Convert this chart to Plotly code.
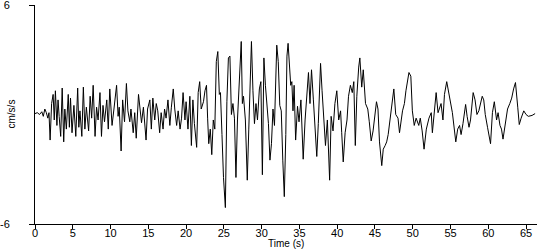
import plotly.graph_objects as go

time_s = [0, 0.3, 0.6, 0.9, 1.1, 1.3, 1.5, 1.7, 1.85, 2.0, 2.2, 2.4, 2.55, 2.7, 2.9, 3.05, 3.2, 3.4, 3.6, 3.8,
          3.95, 4.15, 4.4, 4.55, 4.7, 4.9, 5.15, 5.4, 5.65, 5.8, 5.95, 6.2, 6.4, 6.6, 6.8, 7.1, 7.3, 7.5, 7.7, 7.95,
          8.15, 8.35, 8.6, 8.8, 9.0, 9.2, 9.5, 9.7, 9.9, 10.2, 10.45, 10.8, 11.0, 11.15, 11.4, 11.6, 11.85, 12.1, 12.3, 12.55,
          12.7, 13.0, 13.2, 13.4, 13.7, 13.9, 14.1, 14.35, 14.7, 14.9, 15.2, 15.4, 15.6, 15.85, 16.05, 16.25, 16.5, 16.7, 16.95, 17.15,
          17.35, 17.6, 17.85, 18.05, 18.3, 18.5, 18.75, 18.95, 19.2, 19.4, 19.6, 19.85, 20.0, 20.25, 20.5, 20.7, 20.9, 21.1, 21.4, 21.6,
          21.8, 22.0, 22.3, 22.5, 22.7, 22.85, 23.0, 23.2, 23.4, 23.6, 23.8, 24.0, 24.2, 24.4, 24.55, 24.75, 24.95, 25.2, 25.4, 25.6,
          25.8, 26.0, 26.2, 26.4, 26.6, 26.8, 26.95, 27.1, 27.3, 27.45, 27.6, 27.85, 28.1, 28.3, 28.45, 28.65, 28.85, 29.05, 29.25, 29.45,
          29.7, 29.9, 30.1, 30.3, 30.5, 30.7, 30.9, 31.1, 31.3, 31.5, 31.7, 32.0, 32.2, 32.4, 32.6, 32.8, 33.0, 33.2, 33.35, 33.5,
          33.7, 33.85, 34.0, 34.15, 34.3, 34.5, 34.75, 34.95, 35.2, 35.5, 35.75, 35.95, 36.2, 36.4, 36.6, 36.85, 37.05, 37.3, 37.5, 37.8,
          38.0, 38.2, 38.45, 38.7, 38.8, 39.0, 39.2, 39.45, 39.7, 39.95, 40.2, 40.45, 40.6, 40.8, 41.05, 41.3, 41.5, 41.75, 42.0, 42.2,
          42.4, 42.6, 42.85, 43.0, 43.25, 43.45, 43.75, 44.05, 44.25, 44.5, 44.75, 45.0, 45.2, 45.4, 45.6, 45.9, 46.1, 46.35, 46.55, 46.75,
          47.0, 47.25, 47.5, 47.75, 48.05, 48.25, 48.65, 48.9, 49.1, 49.5, 49.75, 49.95, 50.2, 50.45, 50.8, 51.0, 51.25, 51.5, 51.8, 52.15,
          52.45, 52.6, 52.9, 53.1, 53.35, 53.75, 54.0, 54.2, 54.5, 54.85, 55.25, 55.7, 55.95, 56.2, 56.4, 56.65, 57.0, 57.2, 57.45, 57.65,
          58.0, 58.25, 58.5, 58.75, 59.2, 59.4, 59.6, 59.9, 60.05, 60.3, 60.55, 60.8, 61.1, 61.3, 61.55, 61.75, 61.95, 62.2, 62.55, 62.85,
          63.1, 63.35, 63.6, 63.9, 64.1, 64.35, 64.7, 65.0, 65.3, 65.8, 66.2]

accel = [0.05, 0.1, 0.0, 0.15, -0.1, 0.3, 0.1, -0.2, 0.1, -1.4, 0.6, 1.1, -0.3, 1.3, -0.6, 0.8, -0.1, -1.2, 1.45, -1.5,
         0.3, -0.8, 1.1, -0.7, 0.9, -1.0, 0.5, -1.2, 1.45, -0.7, 0.2, -1.2, 1.5, -0.8, 0.4, -0.9, 1.0, -0.2, 1.6, -1.2,
         0.4, -0.3, 1.2, -1.2, 0.5, -0.4, 0.8, -0.8, 1.4, -0.6, 0.3, 1.6, -0.1, 0.4, -2.0, 0.8, -0.4, 1.7, 0.2, -0.4,
         0.3, -1.0, 0.1, -1.3, 1.1, 0.3, -0.45, 0.4, -1.4, 0.3, 0.8, -0.8, 0.9, -0.3, 0.6, 0.2, -1.0, 0.1, -0.8, 0.3,
         -0.2, 0.8, -0.6, 0.4, 1.4, 0.3, -0.6, 0.2, -0.8, -0.2, 1.2, -0.3, 0.7, -0.8, 1.0, -1.7, 0.8, -0.5, -1.8, 1.2,
         1.8, 0.3, 0.7, 1.3, 1.6, -0.2, -1.6, -0.8, -2.2, -0.3, -0.8, 2.9, 3.45, 1.1, 1.2, -1.1, -3.45, -5.1, 0.7, 3.1,
         3.2, 0.0, 0.6, -0.2, -3.45, -0.3, 1.1, 2.0, 4.0, 0.6, 1.0, -0.3, -3.6, -0.8, 1.1, 4.0, 1.3, -0.5, 0.6, -0.3,
         1.4, 1.8, -3.3, 3.1, 1.6, 0.6, -0.5, -2.5, -1.6, 0.3, -0.6, 3.8, 2.9, 0.5, 0.2, -2.5, -4.5, -1.1, 3.2, 3.9,
         2.4, 1.6, 1.8, 0.2, 1.6, -1.4, 0.45, -0.4, 0.8, -2.45, -0.3, 0.9, 2.3, 0.6, 2.45, 0.8, -0.8, -2.3, -0.5, 2.8,
         1.3, -0.4, -1.7, -0.3, -1.8, -3.6, -0.1, -0.9, 0.6, 1.3, -0.3, 0.2, -1.0, -2.6, -1.0, -0.3, 1.0, 1.6, 1.2, 1.8,
         -1.7, 1.0, 2.6, 3.1, 1.5, 2.45, 0.6, 0.3, -0.4, -1.45, -0.9, 0.2, 0.7, 0.3, -1.5, -2.8, -1.9, -1.7, -1.5, -1.1,
         -0.2, 0.4, 1.4, 0.0, -0.2, -1.0, 0.2, 0.6, 1.3, 2.3, 2.1, 0.2, -0.6, -0.2, -0.6, -0.2, -0.9, -1.9, -0.8, -0.2,
         0.1, -1.0, 0.6, 1.2, 0.1, 0.6, -0.3, 1.1, 1.8, 1.0, 0.1, -1.5, -0.8, -0.6, -1.1, -0.5, 0.55, -0.1, -0.7, -0.3,
         1.2, 0.8, 0.0, 0.2, 1.0, 0.8, 0.0, -0.7, -1.1, -1.6, 0.1, 0.7, -0.3, 0.1, -0.6, -0.8, -1.35, -0.6, 0.3, 0.6,
         0.9, 1.4, 1.75, 0.4, -0.55, -0.2, 0.2, 0.0, -0.1, -0.05, 0.05]

x_ticks = [0, 5, 10, 15, 20, 25, 30, 35, 40, 45, 50, 55, 60, 65]
y_ticks = [-6, 6]
y_tick_labels = ["-6", "6"]
x_title = "Time (s)"
y_title = "cm/s/s"

font = dict(family="Liberation Sans, Arial, sans-serif", size=10, color="black")
tick_font = dict(family="Liberation Sans, Arial, sans-serif", size=11, color="black")

fig = go.Figure()
fig.add_trace(go.Scatter(x=time_s, y=accel, mode="lines",
                         line=dict(color="black", width=1), hoverinfo="skip"))

fig.update_layout(
    width=550, height=250,
    margin=dict(l=35, r=13, t=5, b=26, autoexpand=False),
    paper_bgcolor="white", plot_bgcolor="white",
    showlegend=False, font=font,
    xaxis=dict(range=[0, 66.45], tickvals=x_ticks, showgrid=False, zeroline=False,
               showline=True, linecolor="black", linewidth=1, automargin=False,
               ticks="outside", ticklen=4, tickcolor="black", tickfont=tick_font,
               ticklabelstandoff=-5),
    yaxis=dict(range=[-6, 6], tickvals=y_ticks, ticktext=y_tick_labels,
               showgrid=False, zeroline=False, automargin=False,
               showline=True, linecolor="black", linewidth=1,
               ticks="outside", ticklen=5, tickcolor="black", tickfont=tick_font,
               ticklabelstandoff=17, ticklabeloverflow="allow"),
    annotations=[
        dict(text=x_title, xref="paper", yref="paper", x=0.5, y=0, yshift=-26,
             xanchor="center", yanchor="bottom", showarrow=False, font=font,
             borderpad=0),
        dict(text=y_title, xref="paper", yref="paper", x=0, y=0.5, xshift=-24,
             xanchor="center", yanchor="middle", textangle=-90, showarrow=False, font=font),
    ],
)

fig.write_html("out.html")
